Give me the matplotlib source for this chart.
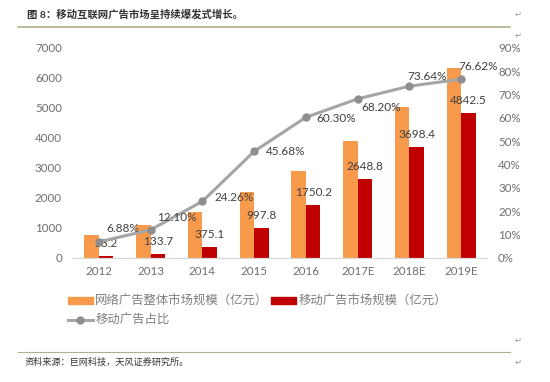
import numpy as np
import matplotlib as mp
mp.use('Agg')
import matplotlib.pyplot as plt
from matplotlib.patches import Patch
from matplotlib.lines import Line2D

mp.rcParams['font.family'] = ['Lato', 'Noto Sans CJK SC', 'DejaVu Sans']

years = ['2012', '2013', '2014', '2015', '2016', '2017E', '2018E', '2019E']
total_ad = [773, 1105, 1546, 2184, 2902, 3884, 5022, 6320]
mobile_ad = [53.2, 133.7, 375.1, 997.8, 1750.2, 2648.8, 3698.4, 4842.5]
mobile_share = [6.88, 12.10, 24.26, 45.68, 60.30, 68.20, 73.64, 76.62]

# label offsets for the % labels (points)
pct_off = [(17, 10), (19, 9), (23, 3), (23, 0), (22, -1), (17, -6), (13, 7), (12, 9)]

c_total = '#F79A4C'
c_mobile = '#C00000'
c_line = '#A5A5A5'
c_text = '#6E6E6E'

fig = plt.figure(figsize=(5.5, 3.82), dpi=100)
ax1 = fig.add_axes([73/550, 1-258/382, 414/550, 210/382])
ax2 = ax1.twinx()

x = np.arange(len(years))
w = 0.28
ax1.bar(x - w/2, total_ad, w, color=c_total, zorder=2)
ax1.bar(x + w/2, mobile_ad, w, color=c_mobile, zorder=2)
ax1.set_ylim(0, 7000)
ax1.set_xlim(-0.5, len(years) - 0.5)
ax1.set_yticks(np.arange(0, 7001, 1000))
ax1.set_xticks(x)
ax1.set_xticklabels(years)

share = np.array(mobile_share) / 100
ax2.plot(x, share, '-o', color=c_line, lw=2.2, markersize=5,
         markerfacecolor='#8E8E8E', markeredgecolor='#8E8E8E', zorder=3)
ax2.set_ylim(0, 0.9)
ax2.set_yticks(np.arange(0, 0.91, 0.1))
ax2.set_yticklabels(['%d%%' % v for v in range(0, 91, 10)])

for a in (ax1, ax2):
    for s in ['top', 'left', 'right']:
        a.spines[s].set_visible(False)
    a.spines['bottom'].set_color('#D9D9D9')
    a.tick_params(length=0, labelsize=8.3, labelcolor=c_text)
ax1.tick_params(axis='x', pad=6)
ax1.tick_params(axis='y', pad=8)
ax2.tick_params(axis='y', pad=8)

for i, v in enumerate(mobile_ad):
    ax1.annotate('%.1f' % v, (x[i] + w/2, v), xytext=(0, 9),
                 textcoords='offset points', ha='center', va='center',
                 fontsize=8.5, color='#404040', zorder=5)

for i, v in enumerate(share):
    ax2.annotate('%.2f%%' % mobile_share[i], (x[i], v), xytext=pct_off[i],
                 textcoords='offset points', ha='center', va='center',
                 fontsize=8.5, color='#404040', zorder=5)

handles = [Patch(color=c_total), Line2D([], [], color=c_line, lw=2.2, marker='o',
           markersize=5, markerfacecolor='#8E8E8E', markeredgecolor='#8E8E8E'),
           Patch(color=c_mobile)]
labels = ['网络广告整体市场规模（亿元）', '移动广告占比', '移动广告市场规模（亿元）']
leg = fig.legend(handles, labels, ncol=2, loc='upper left',
                 bbox_to_anchor=(68/550, 1-295/382), frameon=False,
                 fontsize=8.9, labelcolor='#7F7F7F', handlelength=2.0,
                 handleheight=0.5, handletextpad=0.2, columnspacing=0.2,
                 labelspacing=0.55, borderpad=0, borderaxespad=0)

# title, rules, source
fig.text(27/550, 1-14/382, '图 8：移动互联网广告市场呈持续爆发式增长。', fontsize=7.5,
         fontweight='bold', color='#333333', va='center', ha='left')
fig.add_artist(Line2D([18/550, 510/550], [1-27/382, 1-27/382], color='#B5AE8A', lw=1.2))
fig.add_artist(Line2D([18/550, 510/550], [1-352/382, 1-352/382], color='#B5AE8A', lw=0.8))
fig.text(25/550, 1-362/382, '资料来源：巨网科技，天风证券研究所。', fontsize=6.6,
         color='#333333', va='center', ha='left')
for yy in (14, 35, 340, 362):
    fig.text(515/550, 1-yy/382, '↵', fontsize=6, color='#999999',
             va='center', ha='left', family=['DejaVu Sans'])

fig.savefig('out.png', dpi=100, facecolor='white')
